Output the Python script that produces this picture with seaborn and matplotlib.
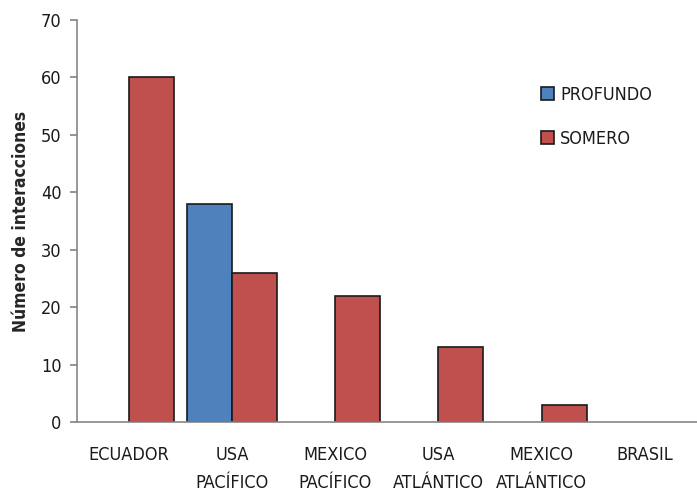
import matplotlib
matplotlib.use("Agg")
import matplotlib.pyplot as plt
from matplotlib.patches import Patch
import seaborn as sns
import pandas as pd

regions = ["ECUADOR", "USA\nPACÍFICO", "MEXICO\nPACÍFICO", "USA\nATLÁNTICO", "MEXICO\nATLÁNTICO", "BRASIL"]
profundo = [0, 38, 0, 0, 0, 0]
somero = [60, 26, 22, 13, 3, 0]
series = ["PROFUNDO", "SOMERO"]
colors = {"PROFUNDO": "#4F81BD", "SOMERO": "#C0504D"}

df = pd.DataFrame({
    "region": regions * 2,
    "tipo": ["PROFUNDO"] * len(regions) + ["SOMERO"] * len(regions),
    "valor": profundo + somero,
})

sns.set_theme(style="white")
plt.rcParams["font.family"] = ["DejaVu Sans"]
plt.rcParams["font.stretch"] = "condensed"
plt.rcParams["text.color"] = "#1a1a1a"
plt.rcParams["xtick.color"] = "#1a1a1a"
plt.rcParams["ytick.color"] = "#1a1a1a"

fig = plt.figure(figsize=(6.97, 4.92), dpi=100)
ax = fig.add_axes([0.1105, 0.1423, 0.889, 0.817])

sns.barplot(data=df, x="region", y="valor", hue="tipo", order=regions,
            hue_order=series, palette=colors, width=0.87, saturation=1,
            edgecolor="#1a1a1a", linewidth=1.2, ax=ax, legend=False)

# hide empty bars so zero values leave no outline on the baseline
for p in ax.patches:
    if p.get_height() == 0:
        p.set_visible(False)

ax.set_ylim(0, 70)
ax.set_yticks(range(0, 71, 10))
ax.set_xlim(-0.5, len(regions) - 0.5)
ax.set_xlabel("")
ax.set_ylabel("Número de interacciones", fontsize=12.5, fontweight="bold", labelpad=8)
ax.tick_params(axis="y", labelsize=13, length=5, color="#868686", labelcolor="#1a1a1a",
               direction="out", left=True, pad=6)
ax.tick_params(axis="x", labelsize=13, length=0, labelcolor="#1a1a1a", pad=17)
for lab in ax.get_xticklabels():
    lab.set_verticalalignment("top")
    lab.set_linespacing(1.75)

for side in ["top", "right"]:
    ax.spines[side].set_visible(False)
for side in ["left", "bottom"]:
    ax.spines[side].set_color("#868686")
    ax.spines[side].set_linewidth(1.2)

handles = [Patch(facecolor=colors[s], edgecolor="#1a1a1a", linewidth=1.2, label=s) for s in series]
ax.legend(handles=handles, loc="upper left", bbox_to_anchor=(541 / 697, 1 - 86 / 492),
          bbox_transform=fig.transFigure, frameon=False, fontsize=13,
          handlelength=0.72, handleheight=0.72, handletextpad=0.35, labelspacing=1.45,
          borderaxespad=0, borderpad=0)

fig.savefig("out.png", dpi=100)
